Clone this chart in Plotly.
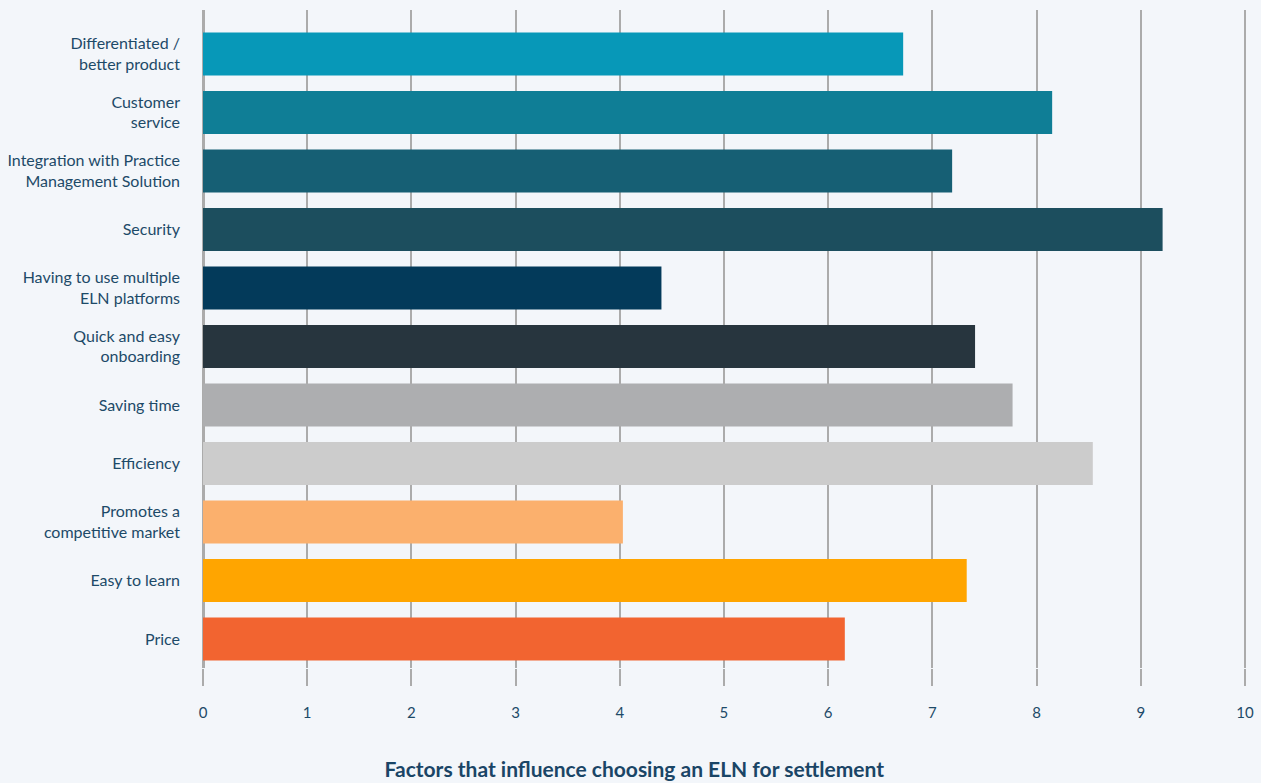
import plotly.graph_objects as go

categories = [
    "Differentiated /<br>better product",
    "Customer<br>service",
    "Integration with Practice<br>Management Solution",
    "Security",
    "Having to use multiple<br>ELN platforms",
    "Quick and easy<br>onboarding",
    "Saving time",
    "Efficiency",
    "Promotes a<br>competitive market",
    "Easy to learn",
    "Price",
]
values = [6.72, 8.15, 7.19, 9.21, 4.40, 7.41, 7.77, 8.54, 4.03, 7.33, 6.16]
colors = ["#0798B8", "#0F7E96", "#165F74", "#1C4E5E", "#033A5A", "#27353E",
          "#ADAEB0", "#CCCCCC", "#FBB06D", "#FFA500", "#F26430"]
x_ticks = list(range(0, 11))
x_title = "Factors that influence choosing an ELN for settlement"

text_color = "#1D4A68"
grid_color = "#ABABAB"

fig = go.Figure(go.Bar(
    x=values, y=categories, orientation="h",
    marker=dict(color=colors, line=dict(width=0)),
    width=0.735,
))

fig.update_layout(
    width=1261, height=783,
    margin=dict(l=203, r=14, t=10, b=115, autoexpand=False),
    paper_bgcolor="#F3F6FA", plot_bgcolor="#F3F6FA",
    font=dict(family="Lato", color=text_color, size=16),
    showlegend=False,
    bargap=0.265,
    title=dict(text="<b>" + x_title + "</b>", x=0.503, xref="container", xanchor="center",
               y=1 - 770 / 783, yref="container", yanchor="middle",
               font=dict(size=21, color="#1A4566", family="Lato")),
)
fig.update_xaxes(
    range=[0, 10.02], tickvals=x_ticks, ticktext=[str(v) for v in x_ticks],
    showgrid=True, gridcolor=grid_color, gridwidth=2,
    zeroline=True, zerolinecolor=grid_color, zerolinewidth=3,
    ticks="outside", ticklen=17, tickwidth=2, tickcolor=grid_color,
    tickfont=dict(size=15, color=text_color), ticklabelstandoff=14,
    showline=False, fixedrange=True, automargin=False,
)
fig.update_yaxes(
    categoryorder="array", categoryarray=categories,
    range=[10.496, -0.752],
    showgrid=False, zeroline=False, ticks="", showline=False,
    tickfont=dict(size=16, color=text_color), ticklabelstandoff=22,
    automargin=False,
)

fig.write_html("out.html")
